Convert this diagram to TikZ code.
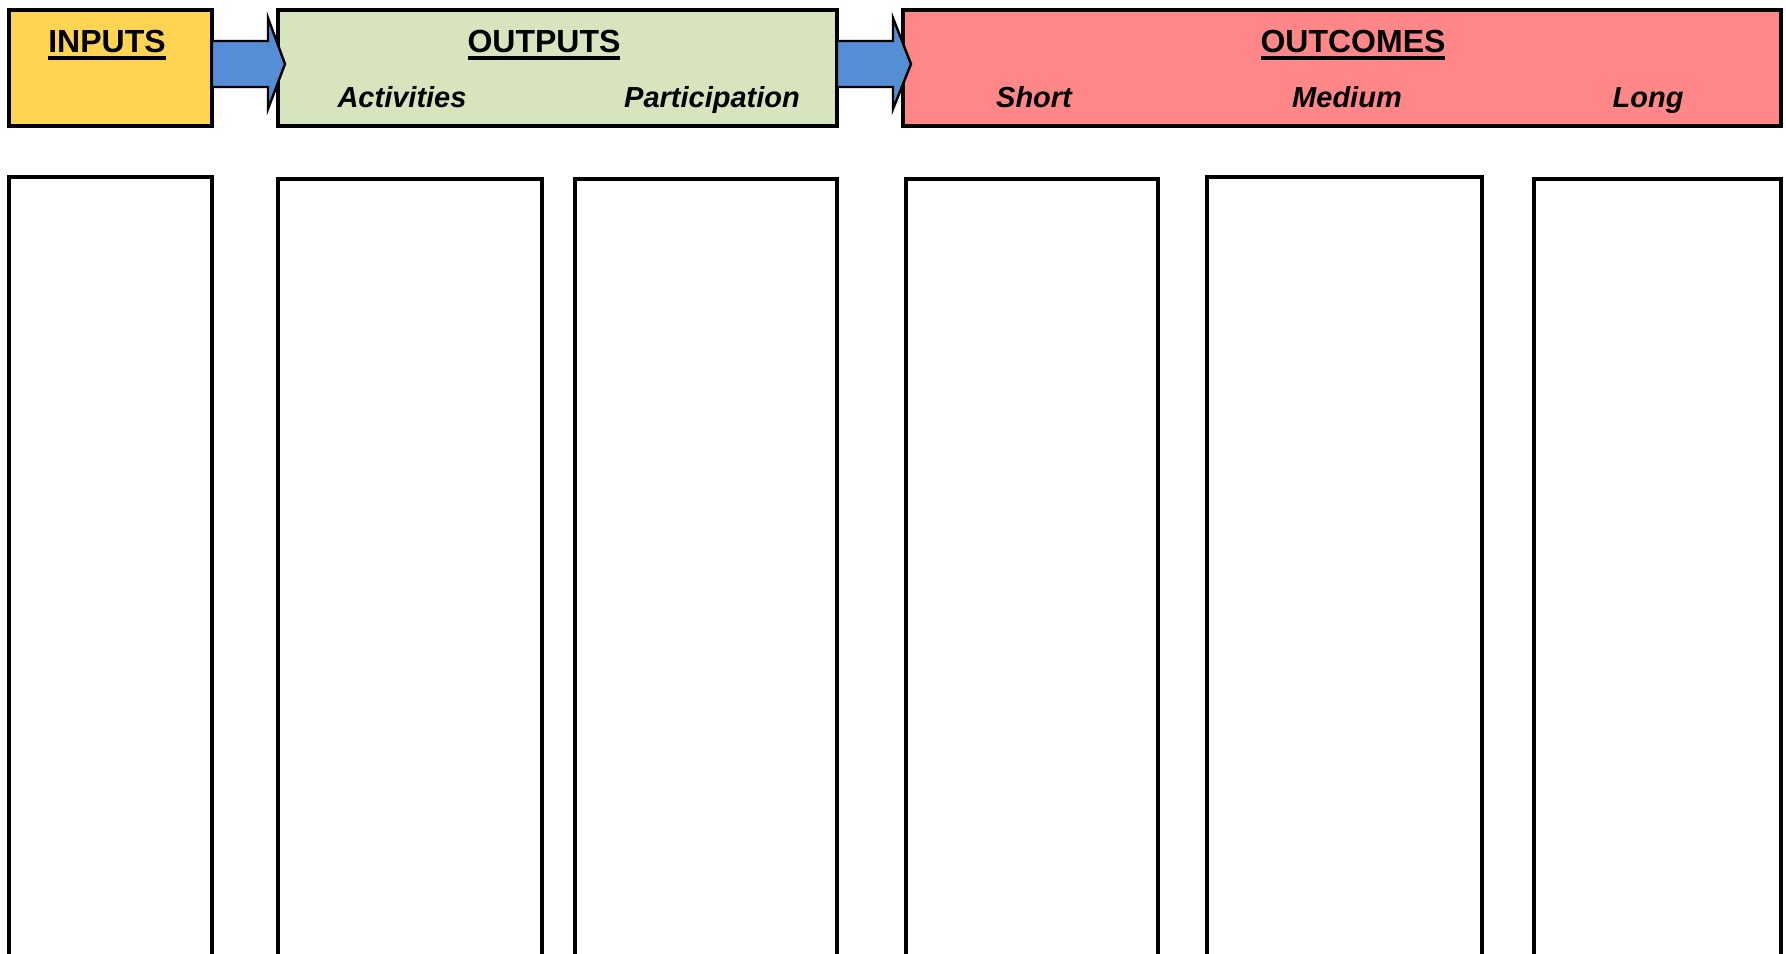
\documentclass[tikz,border=0pt]{standalone}
\usepackage{fontspec}
\setmainfont{Liberation Sans}
\definecolor{inyellow}{HTML}{FFD452}
\definecolor{outgreen}{HTML}{D7E4BD}
\definecolor{outred}{HTML}{FF8787}
\definecolor{arrblue}{HTML}{558ED5}
\newcommand\hdul[1]{\leavevmode\vtop{\hbox{#1}\kern2pt\hrule height 1.6pt}}
\tikzset{
  hdbox/.style={draw=black, line width=1.6pt, inner sep=0pt, rectangle},
  colbox/.style={draw=black, line width=1.6pt, fill=white},
  blockarrow/.style={draw=black, line width=1.2pt, fill=arrblue, line join=miter},
  hdtext/.style={font=\fontsize{16}{18}\selectfont\bfseries, anchor=base, inner sep=0pt},
  subtext/.style={font=\fontsize{14.5}{17}\selectfont\bfseries\itshape, anchor=base, inner sep=0pt},
}
\begin{document}
\begin{tikzpicture}[x=0.5pt,y=-0.5pt]
\useasboundingbox (0,0) rectangle (1786,953);
\clip (0,0) rectangle (1786,953);
% header boxes
\path[hdbox, fill=inyellow] (9,10) rectangle (212,126);
\coordinate (inputsE) at (212,64);
\path[hdbox, fill=outgreen] (278,10) rectangle (837,126);
\path[hdbox, fill=outred] (903,10) rectangle (1781,126);
% block arrows
\draw[blockarrow] (212,41) -- (268,41) -- (268,18) -- (285,64) -- (268,109) -- (268,87) -- (212,87) -- cycle;
\draw[blockarrow] (837,41) -- (893,41) -- (893,18) -- (911,64) -- (893,109) -- (893,87) -- (837,87) -- cycle;
% header texts
\node[hdtext] (inputs) at (107,52) {\hdul{INPUTS}};
\node[hdtext] (outputs) at (544,52) {\hdul{OUTPUTS}};
\node[hdtext] (outcomes) at (1353,52) {\hdul{OUTCOMES}};
\node[subtext] (activities) at (402,107) {Activities};
\node[subtext] (participation) at (712,107) {Participation};
\node[subtext] (short) at (1034,107) {Short};
\node[subtext] (medium) at (1347,107) {Medium};
\node[subtext] (long) at (1648,107) {Long};
% column boxes (open at the bottom edge)
\draw[colbox] (9,177) rectangle (212,1000);
\draw[colbox] (278,179) rectangle (542,1000);
\draw[colbox] (575,179) rectangle (837,1000);
\draw[colbox] (906,179) rectangle (1158,1000);
\draw[colbox] (1207,177) rectangle (1482,1000);
\draw[colbox] (1534,179) rectangle (1781,1000);
\end{tikzpicture}
\end{document}
